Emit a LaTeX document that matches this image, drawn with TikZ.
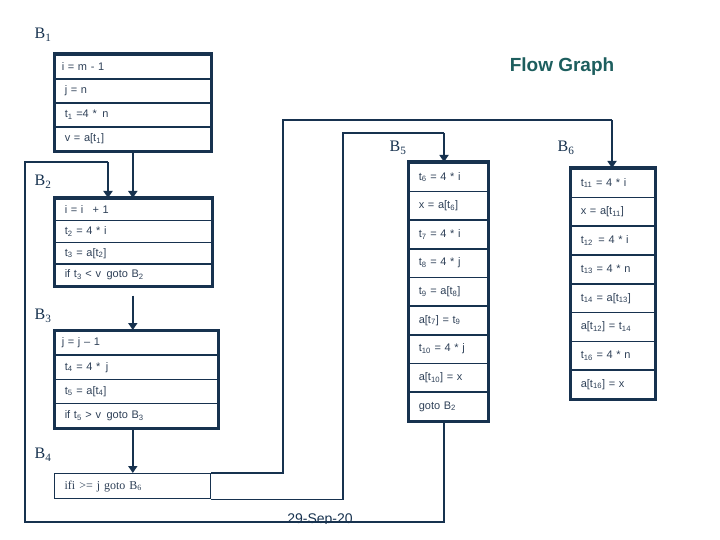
\documentclass[tikz,border=0pt]{standalone}
\usepackage{fontspec}
\setmainfont{Liberation Serif}
\setsansfont{Liberation Sans}
\usetikzlibrary{arrows.meta}
\definecolor{navy}{HTML}{17324F}
\definecolor{txt}{HTML}{2E4057}
\definecolor{flowteal}{HTML}{1D5E5E}
\newcommand{\sbs}[1]{\textsubscript{#1}}
\tikzset{
  row/.style={draw=navy, line width=1.6pt, inner xsep=10pt, inner ysep=0pt,
    anchor=north west, font=\sffamily\fontsize{11}{12}\selectfont, text=txt, align=left},
  rb1/.style={row, text width=136pt, minimum height=24pt},
  rb2/.style={row, text width=137pt, minimum height=21.75pt},
  rb3/.style={row, text width=143pt, minimum height=24.25pt},
  rb5/.style={row, text width=59pt, minimum height=28.67pt},
  rb6/.style={row, text width=64pt, minimum height=28.75pt},
  outer/.style={draw=navy, line width=3pt},
  blabel/.style={font=\rmfamily\fontsize{16}{18}\selectfont, text=navy},
  conn/.style={draw=navy, line width=2.6pt, -{Triangle[width=9pt,length=7pt]}},
  thin/.style={draw=navy, line width=1.3pt},
}
\begin{document}
\begin{tikzpicture}[x=1pt,y=-1pt]
\useasboundingbox (0,0) rectangle (720,540);
% labels
\node[blabel] (lb1) at (43,35) {B\textsubscript{1}};
\node[blabel] (lb2) at (43,182) {B\textsubscript{2}};
\node[blabel] (lb3) at (43,316) {B\textsubscript{3}};
\node[blabel] (lb4) at (43,455) {B\textsubscript{4}};
\node[blabel] (lb5) at (398,148) {B\textsubscript{5}};
\node[blabel] (lb6) at (566,148) {B\textsubscript{6}};
\node[font=\sffamily\bfseries\fontsize{19}{22}\selectfont, text=flowteal] (title) at (562,67) {Flow Graph};
% B1
\node[rb1, inner xsep=7pt, text width=142pt] (b1r1) at (54,54) {i = m - 1};
\node[rb1] (b1r2) at (54,78) {j = n};
\node[rb1] (b1r3) at (54,102) {t\sbs{1} =4 *\, n};
\node[rb1] (b1r4) at (54,126) {v = a[t\sbs{1}]};
\draw[outer] (b1r1.north west) rectangle (b1r4.south east);
% B2
\node[rb2] (b2r1) at (54,198) {i = i \, + 1};
\node[rb2] (b2r2) at (54,219.75) {t\sbs{2} = 4 * i};
\node[rb2] (b2r3) at (54,241.5) {t\sbs{3} = a[t\sbs{2}]};
\node[rb2] (b2r4) at (54,263.25) {if t\sbs{3} < v \,goto B\sbs{2}};
\draw[outer] (b2r1.north west) rectangle (b2r4.south east);
% B3
\node[rb3, inner xsep=7pt, text width=149pt] (b3r1) at (54,330) {j = j -- 1};
\node[rb3] (b3r2) at (54,354.25) {t\sbs{4} = 4 *\, j};
\node[rb3] (b3r3) at (54,378.5) {t\sbs{5} = a[t\sbs{4}]};
\node[rb3] (b3r4) at (54,402.75) {if t\sbs{5} > v \,goto B\sbs{3}};
\draw[outer] (b3r1.north west) rectangle (b3r4.south east);
% B4
\node[row, line width=1.2pt, text width=136pt, minimum height=25pt,
  font=\rmfamily\fontsize{12}{14}\selectfont] (b4) at (54,473) {ifi >= j goto B\sbs{6}};
% B5
\node[rb5] (b5r1) at (408,162) {t\sbs{6} = 4 * i};
\node[rb5] (b5r2) at (408,190.67) {x = a[t\sbs{6}]};
\node[rb5] (b5r3) at (408,219.33) {t\sbs{7} = 4 * i};
\node[rb5] (b5r4) at (408,248) {t\sbs{8} = 4 * j};
\node[rb5] (b5r5) at (408,276.67) {t\sbs{9} = a[t\sbs{8}]};
\node[rb5] (b5r6) at (408,305.33) {a[t\sbs{7}] = t\sbs{9}};
\node[rb5] (b5r7) at (408,334) {t\sbs{10} = 4 * j};
\node[rb5] (b5r8) at (408,362.67) {a[t\sbs{10}] = x};
\node[rb5] (b5r9) at (408,391.33) {goto B\sbs{2}};
\draw[outer] (b5r1.north west) rectangle (b5r9.south east);
% B6
\node[rb6] (b6r1) at (570,168) {t\sbs{11} = 4 * i};
\node[rb6] (b6r2) at (570,196.75) {x = a[t\sbs{11}]};
\node[rb6] (b6r3) at (570,225.5) {t\sbs{12} \,= 4 * i};
\node[rb6] (b6r4) at (570,254.25) {t\sbs{13} = 4 * n};
\node[rb6] (b6r5) at (570,283) {t\sbs{14} = a[t\sbs{13}]};
\node[rb6] (b6r6) at (570,311.75) {a[t\sbs{12}] = t\sbs{14}};
\node[rb6] (b6r7) at (570,340.5) {t\sbs{16} = 4 * n};
\node[rb6] (b6r8) at (570,369.25) {a[t\sbs{16}] = x};
\draw[outer] (b6r1.north west) rectangle (b6r8.south east);
% coordinates for routing
\coordinate (x5) at (444,0);
\coordinate (x2) at (108,0);
\coordinate (l2a) at (444,522);
\coordinate (l2b) at (25,522);
\coordinate (l2c) at (25,162);
\coordinate (l2d) at (108,162);
\coordinate (l5b) at (343,133);
\coordinate (l5c) at (444,133);
\coordinate (l6b) at (283,120);
\coordinate (l6c) at (612,120);
% straight connectors
\draw[conn] (b1r4.south) -- (b2r1.north -| b1r4.south);
\draw[conn] ([yshift=-9pt]b2r4.south -| b1r4.south) -- (b3r1.north -| b1r4.south);
\draw[conn] (b3r4.south -| b1r4.south) -- (b4.north -| b1r4.south);
% loop B5 -> B2
\draw[thin] (b5r9.south -| x5) -- (l2a) -- (l2b) -- (l2c) -- (l2d);
\draw[conn] (l2d) -- (b2r1.north -| x2);
% loop B4 -> B5
\draw[thin] (b4.south east) -| (l5b) -- (l5c);
\draw[conn] (l5c) -- (b5r1.north -| l5c);
% loop B4 -> B6
\draw[thin] (b4.north east) -| (l6b) -- (l6c);
\draw[conn] (l6c) -- (b6r1.north -| l6c);
% date
\begin{scope}
\clip (250,490) rectangle (420,523.5);
\node[anchor=base, font=\sffamily\fontsize{14}{16}\selectfont, text=navy, inner sep=0pt] (date) at (320,523) {29-Sep-20};
\end{scope}
\end{tikzpicture}
\end{document}
